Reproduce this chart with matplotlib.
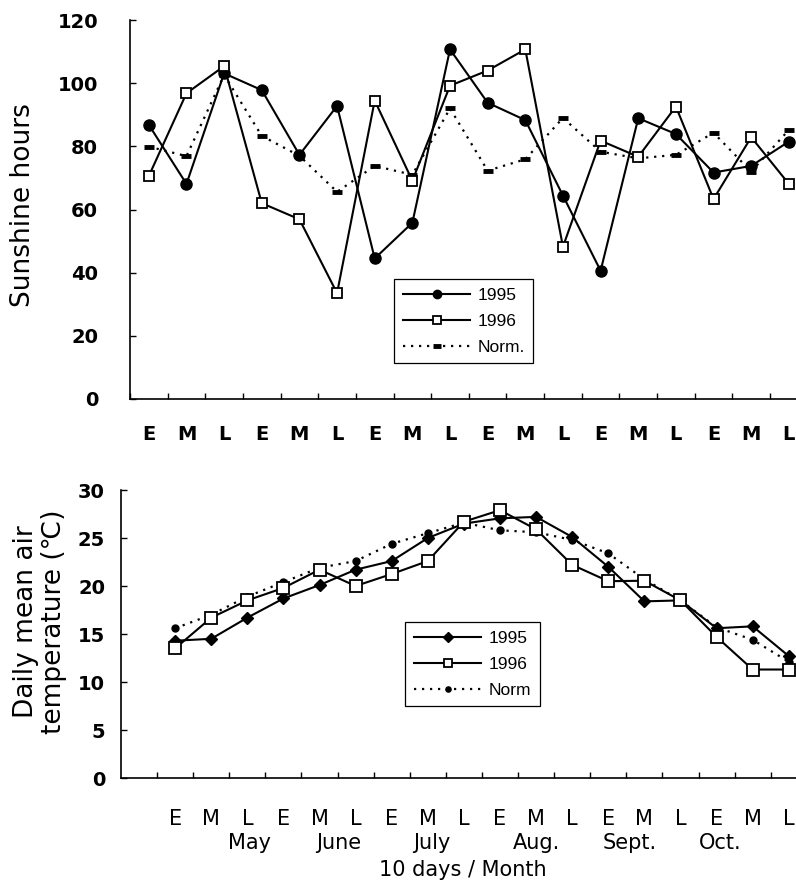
import matplotlib
matplotlib.use("Agg")
import matplotlib.pyplot as plt
from matplotlib.ticker import FixedLocator, NullFormatter
import numpy as np

# ---------------- data ----------------
period_labels = ['E', 'M', 'L'] * 6
months = ['May', 'June', 'July', 'Aug.', 'Sept.', 'Oct.']

sun_1995 = [86.8, 68.1, 103.1, 97.8, 77.3, 92.8, 44.5, 55.8, 110.7,
            93.8, 88.3, 64.4, 40.6, 88.9, 83.9, 71.7, 73.8, 81.5]
sun_1996 = [70.6, 96.8, 105.4, 62.0, 56.9, 33.5, 94.5, 69.1, 99.2,
            104.0, 110.7, 48.2, 81.8, 76.7, 92.6, 63.3, 82.9, 68.1]
sun_norm = [79.9, 76.9, 102.6, 83.3, 77.0, 65.6, 73.8, 71.0, 92.0,
            72.3, 75.9, 89.0, 78.3, 76.2, 77.3, 84.3, 72.0, 85.2]

temp_1995 = [14.3, 14.5, 16.7, 18.7, 20.1, 21.7, 22.6, 25.0, 26.5,
             27.05, 27.2, 25.1, 22.0, 18.4, 18.5, 15.6, 15.8, 12.7]
temp_1996 = [13.5, 16.7, 18.5, 19.8, 21.7, 20.0, 21.25, 22.6, 26.7,
             27.9, 25.9, 22.2, 20.5, 20.55, 18.5, 14.7, 11.3, 11.3]
temp_norm = [15.6, 17.0, 18.9, 20.4, 21.9, 22.6, 24.4, 25.5, 26.6,
             25.8, 25.6, 24.8, 23.4, 20.7, 18.5, 15.7, 14.4, 12.1]

sun_yticks = [0, 20, 40, 60, 80, 100, 120]
temp_yticks = [0, 5, 10, 15, 20, 25, 30]

# ---------------- figure ----------------
W, H = 796, 885
fig = plt.figure(figsize=(W / 100, H / 100), dpi=100)
plt.rcParams['font.family'] = ['DejaVu Sans']

def px_axes(l, t, r, b):
    return [l / W, 1 - b / H, (r - l) / W, (b - t) / H]

x = np.arange(len(period_labels))
dotted = (0, (1, 2.6))

def style_axes(ax, xl, ylim, yticks, ypad, xpad, xbold, xsize):
    ax.set_xlim(*xl)
    ax.set_ylim(*ylim)
    for s in ['top', 'right']:
        ax.spines[s].set_visible(False)
    for s in ['left', 'bottom']:
        ax.spines[s].set_linewidth(1.2)
    ax.set_xticks(x)
    ax.set_xticklabels(period_labels, fontsize=xsize,
                       fontweight='bold' if xbold else 'normal')
    ax.xaxis.set_minor_locator(FixedLocator(np.arange(len(x)) - 0.5))
    ax.xaxis.set_minor_formatter(NullFormatter())
    ax.tick_params(axis='x', which='major', length=0, pad=xpad)
    ax.tick_params(axis='x', which='minor', direction='in', length=4, width=1)
    ax.set_yticks(yticks)
    ax.set_yticklabels([str(v) for v in yticks], fontsize=14, fontweight='bold')
    ax.tick_params(axis='y', direction='in', length=4, width=1, pad=ypad)

leg_kw = dict(loc='upper left', bbox_transform=fig.transFigure, borderaxespad=0,
              fancybox=False, framealpha=1, edgecolor='black',
              handlelength=3.9, handletextpad=0.4, labelspacing=0.62,
              borderpad=0.5, markerscale=0.75,
              prop={'family': 'Liberation Sans', 'size': 12.5})

# ---------------- top panel ----------------
ax1 = fig.add_axes(px_axes(130, 20, 796, 399))
ax1.plot(x, sun_norm, color='black', linestyle=dotted, linewidth=1.6,
         marker='_', markersize=7, markeredgewidth=3.5, label='Norm.', zorder=2)
ax1.plot(x, sun_1995, color='black', linewidth=1.5, marker='o',
         markersize=8, markerfacecolor='black', label='1995', zorder=3)
ax1.plot(x, sun_1996, color='black', linewidth=1.5, marker='s',
         markersize=7.5, markerfacecolor='white', markeredgewidth=1.3,
         label='1996', zorder=4)
style_axes(ax1, (-0.5, 17.19), (0, 120), sun_yticks, ypad=23, xpad=19,
           xbold=True, xsize=14)
fig.text(23 / W, 1 - 205 / H, 'Sunshine hours', rotation=90,
         ha='center', va='center', fontsize=19)

h, l = ax1.get_legend_handles_labels()
order = [1, 2, 0]
leg1 = ax1.legend([h[i] for i in order], [l[i] for i in order],
                  bbox_to_anchor=(394 / W, 1 - 279 / H), **leg_kw)
leg1.get_frame().set_linewidth(0.9)

# ---------------- bottom panel ----------------
ax2 = fig.add_axes(px_axes(121, 490, 796, 778))
ax2.plot(x, temp_norm, color='black', linestyle=dotted, linewidth=1.6,
         marker='o', markersize=5, label='Norm', zorder=2)
ax2.plot(x, temp_1995, color='black', linewidth=1.5, marker='D',
         markersize=6.5, markerfacecolor='black', label='1995', zorder=3)
ax2.plot(x, temp_1996, color='black', linewidth=1.5, marker='s',
         markersize=8, markerfacecolor='white', markeredgewidth=1.3,
         label='1996', zorder=4)
style_axes(ax2, (-1.5, 17.2), (0, 30), temp_yticks, ypad=11.5, xpad=22,
           xbold=False, xsize=15)

month_pos = [2.05, 4.52, 7.1, 10.0, 12.6, 15.1]
for mp, mname in zip(month_pos, months):
    ax2.text(mp, (778 - 843) / 288, mname, transform=ax2.get_xaxis_transform(),
             ha='center', va='center', fontsize=15)
fig.text(463 / W, 1 - 870 / H, '10 days / Month', ha='center', va='center',
         fontsize=15)
fig.text(40 / W, 1 - 622 / H, 'Daily mean air\ntemperature (\u2103)',
         rotation=90, ha='center', va='center', fontsize=19,
         multialignment='center', linespacing=1.1)

h, l = ax2.get_legend_handles_labels()
leg2 = ax2.legend([h[i] for i in order], [l[i] for i in order],
                  bbox_to_anchor=(405 / W, 1 - 622 / H), **leg_kw)
leg2.get_frame().set_linewidth(0.9)

fig.savefig('out.png', dpi=100)
